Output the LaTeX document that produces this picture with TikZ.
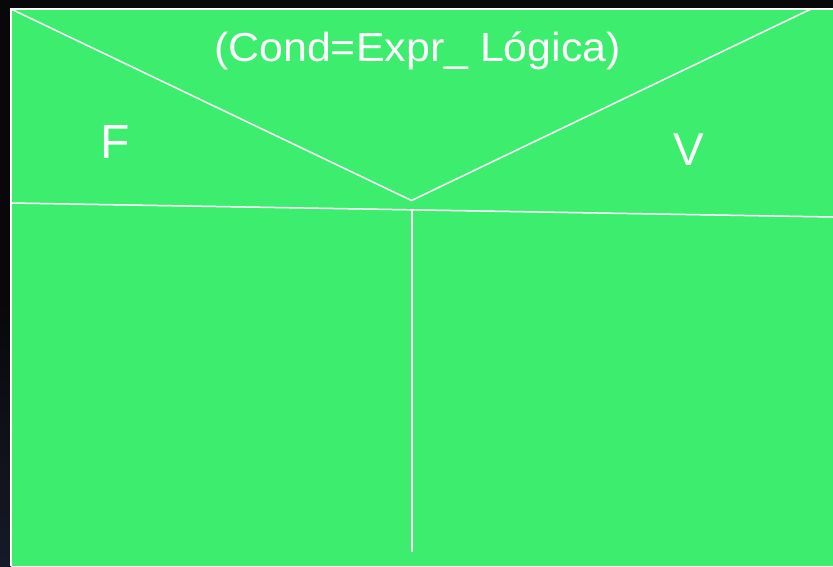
\documentclass[tikz,border=0pt]{standalone}
\usepackage{fontspec}
\setmainfont{Liberation Sans}
\definecolor{bggreen}{RGB}{61,237,110}
\definecolor{darkbg}{RGB}{8,8,10}
\definecolor{darkbot}{RGB}{22,26,40}
\tikzset{
  wline/.style={draw=white, line width=1.5pt},
  lbl/.style={text=white, inner sep=0pt, anchor=base},
}
\begin{document}
\begin{tikzpicture}[x=1pt,y=-1pt]
\useasboundingbox (0,0) rectangle (833,566);
\fill[darkbg] (0,0) rectangle (833,566);
\shade[top color=darkbg, bottom color=darkbot] (0,300) rectangle (11,566);
\fill[bggreen] (11,9) rectangle (833,566);
\draw[wline] (11,566) -- (11,9) -- (833,9);
\coordinate (tl) at (11,9);
\coordinate (tr) at (811,9);
\coordinate (apex) at (411.5,200.5);
\coordinate (hl) at (11,203);
\coordinate (hr) at (833,217);
\coordinate (vt) at (412,209.8);
\coordinate (vb) at (412,552);
\draw[wline] (tl) -- (apex) -- (tr);
\draw[wline] (hl) -- (hr);
\draw[wline] (vt) -- (vb);
\node[lbl, xscale=1.06] (title) at (417.5,61.5) {\fontsize{40.5}{48}\selectfont (Cond=Expr\_ Lógica)};
\node[lbl] (f) at (115,158) {\fontsize{48}{56}\selectfont F};
\node[lbl] (v) at (689,165) {\fontsize{46}{54}\selectfont V};
\end{tikzpicture}
\end{document}
